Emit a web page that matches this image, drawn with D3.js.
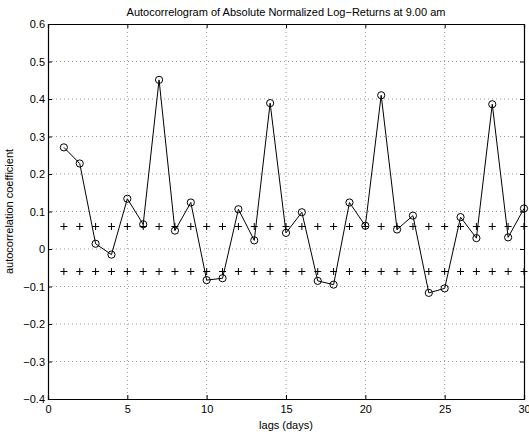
<!DOCTYPE html>
<html>
<head>
<meta charset="utf-8">
<script src="https://cdn.jsdelivr.net/npm/d3@7"></script>
<style>
    body { margin: 0; background: #fff; }
    text { font-family: "Liberation Sans", Arial, sans-serif; fill: #000; }
    .grid line { stroke: #999; stroke-dasharray: 1,3; }
</style>
</head>
<body>
<div id="chart"></div>
<script>
// lags and autocorrelation values
var lags = d3.range(1, 31);
var acf = [0.271, 0.228, 0.014, -0.015, 0.134, 0.066, 0.451, 0.049, 0.124, -0.083,
           -0.078, 0.106, 0.023, 0.389, 0.043, 0.098, -0.085, -0.095, 0.124, 0.062,
           0.410, 0.052, 0.089, -0.117, -0.105, 0.085, 0.029, 0.386, 0.031, 0.108];
var bound = 0.06;
var xTicks = [0, 5, 10, 15, 20, 25, 30];
var yTicks = [-0.4, -0.3, -0.2, -0.1, 0, 0.1, 0.2, 0.3, 0.4, 0.5, 0.6];

var margin = { top: 24, right: 5, bottom: 33, left: 48 };
var width = 529 - margin.left - margin.right;
var height = 432 - margin.top - margin.bottom;

var svg = d3.select("#chart").append("svg")
    .attr("width", 529)
    .attr("height", 432)
    .append("g")
    .attr("transform", "translate(" + margin.left + "," + margin.top + ")");

var x = d3.scaleLinear().domain([0, 30]).range([0, width]);
var y = d3.scaleLinear().domain([-0.4, 0.6]).range([height, 0]);

// grid
svg.append("g").attr("class", "grid")
    .selectAll("line").data(xTicks.slice(1, -1)).enter().append("line")
    .attr("x1", function(d) { return x(d); }).attr("x2", function(d) { return x(d); })
    .attr("y1", 0).attr("y2", height);
svg.append("g").attr("class", "grid")
    .selectAll("line").data(yTicks.slice(1, -1)).enter().append("line")
    .attr("y1", function(d) { return y(d); }).attr("y2", function(d) { return y(d); })
    .attr("x1", 0).attr("x2", width);

// axes (ticks inward, matlab style)
var fmt = function(d) { return d === 0 ? "0" : d3.format(".1f")(d).replace("-", "\u2212"); };

svg.append("g")
    .attr("transform", "translate(0," + height + ")")
    .call(d3.axisBottom(x).tickValues(xTicks).tickSize(-4).tickPadding(6));
svg.append("g")
    .call(d3.axisTop(x).tickValues(xTicks).tickSize(-4).tickFormat(""));
svg.append("g")
    .call(d3.axisLeft(y).tickValues(yTicks).tickSize(-4).tickPadding(3).tickFormat(fmt));
svg.append("g")
    .attr("transform", "translate(" + width + ",0)")
    .call(d3.axisRight(y).tickValues(yTicks).tickSize(-4).tickFormat(""));

svg.selectAll(".domain").attr("stroke", "#000").attr("stroke-width", 1.2);
svg.selectAll(".tick line").attr("stroke", "#000");
svg.selectAll(".tick text").attr("font-size", 11).attr("font-family", "Liberation Sans, Arial, sans-serif");

// confidence bound plus markers
[bound, -bound].forEach(function(b) {
    svg.append("g").selectAll("path").data(lags).enter().append("path")
        .attr("d", function(d) {
            var cx = x(d), cy = y(b);
            return "M" + (cx - 3.5) + "," + cy + "H" + (cx + 3.5) + "M" + cx + "," + (cy - 3.5) + "V" + (cy + 3.5);
        })
        .attr("stroke", "#000")
        .attr("stroke-width", 1);
});

// acf line
var line = d3.line()
    .x(function(d, i) { return x(lags[i]); })
    .y(function(d) { return y(d); });

svg.append("path")
    .datum(acf)
    .attr("d", line)
    .attr("fill", "none")
    .attr("stroke", "#000")
    .attr("stroke-width", 1);

svg.selectAll(".acf-point")
    .data(acf).enter().append("circle")
    .attr("class", "acf-point")
    .attr("cx", function(d, i) { return x(lags[i]); })
    .attr("cy", function(d) { return y(d); })
    .attr("r", 3.6)
    .attr("fill", "none")
    .attr("stroke", "#000")
    .attr("stroke-width", 1);

// labels
svg.append("text")
    .attr("x", width / 2)
    .attr("y", -8)
    .attr("text-anchor", "middle")
    .attr("font-size", 11)
    .text("Autocorrelogram of Absolute Normalized Log\u2212Returns at 9.00 am");

svg.append("text")
    .attr("x", width / 2)
    .attr("y", height + 30)
    .attr("text-anchor", "middle")
    .attr("font-size", 11)
    .text("lags (days)");

svg.append("text")
    .attr("transform", "translate(-35," + (height / 2) + ") rotate(-90)")
    .attr("text-anchor", "middle")
    .attr("font-size", 11)
    .text("autocorrelation coefficient");
</script>
</body>
</html>
